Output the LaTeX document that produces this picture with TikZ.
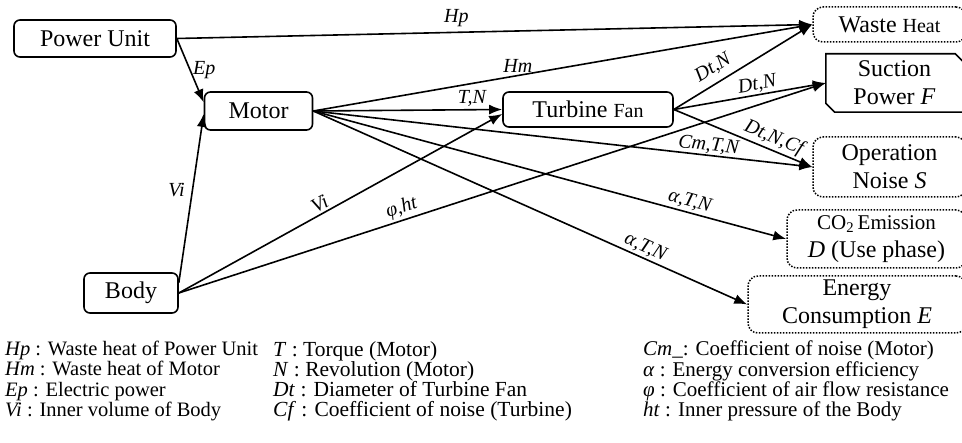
\documentclass[tikz,border=0pt]{standalone}
\usepackage{fontspec}
\setmainfont{Liberation Serif}
\usetikzlibrary{arrows.meta}

\begin{document}
\begin{tikzpicture}[x=1pt, y=-1pt,
  unit/.style={draw, line width=1.6pt, rounded corners=6pt, inner sep=0pt, font=\fontsize{24}{28}\selectfont},
  effect/.style={draw, line width=1.5pt, dash pattern=on 1.5pt off 1.5pt, rounded corners=10pt, inner sep=0pt, align=center, font=\fontsize{24}{28}\selectfont},
  suction/.style={inner sep=0pt, align=center, font=\fontsize{24}{28}\selectfont},
  flow/.style={line width=1.6pt, -{Latex[length=13pt,width=10pt]}},
  lbl/.style={font=\fontsize{20}{22}\selectfont\itshape, inner sep=2pt},
  key/.style={anchor=north west, align=left, inner sep=0pt, font=\fontsize{20.5}{20.2}\selectfont}]

% Marco
\path[fill=white, use as bounding box] (0,0) rectangle (962,443);
\clip (0,0) rectangle (962,443);

% Componentes
\node[unit, minimum width=162pt, minimum height=37pt] (pu) at (95,38.5) {Power Unit};
\node[unit, minimum width=108pt, minimum height=38pt] (motor) at (258.5,111) {Motor};
\node[unit, minimum width=170pt, minimum height=35pt] (fan) at (588,109.5) {Turbine {\fontsize{20}{22}\selectfont Fan}};
\node[unit, minimum width=94pt, minimum height=40pt] (body) at (131,293) {Body};

% Resultados
\node[effect, minimum width=153pt, minimum height=35pt] (heat) at (889.5,24.5) {Waste {\fontsize{20}{22}\selectfont Heat}};
\node[suction, minimum width=137pt, minimum height=58pt] (suct) at (894.5,83) {Suction\\Power \textit{F}};
\draw[line width=1.6pt] (suct.north west) -- ([xshift=-8pt]suct.north east) -- ([yshift=-8pt]suct.north east)
  -- (suct.south east) -- ([xshift=9pt]suct.south west) -- ([yshift=9pt]suct.south west) -- cycle;
\node[effect, minimum width=153pt, minimum height=60pt] (noise) at (889.5,167) {Operation\\Noise \textit{S}};
\node[effect, minimum width=179pt, minimum height=58pt] (co2) at (876.5,239) {{\fontsize{21}{28}\selectfont CO\textsubscript{2}\,Emission}\\\textit{D} (Use phase)};
\node[effect, minimum width=218pt, minimum height=57pt] (energy) at (857,304.5) {Energy\\Consumption \textit{E}};

% Power Unit
\draw[flow] (pu.east) -- node[lbl, above=3pt, pos=0.44]{Hp} (heat.west);
\draw[flow] (pu.east) -- node[lbl, right, pos=0.5]{Ep} (motor.171);

% Motor
\draw[flow] (motor.east) -- node[lbl, above, pos=0.41]{Hm} (heat.west);
\draw[flow] (motor.east) -- node[lbl, above, pos=0.84]{T,N} (fan.west);
\draw[flow] (motor.east) -- node[lbl, sloped, above, pos=0.79, inner sep=1pt]{Cm,T,N} (noise.west);
\draw[flow] (motor.east) -- node[lbl, sloped, above, pos=0.79]{α,T,N} (co2.west);
\draw[flow] (motor.east) -- node[lbl, sloped, above, pos=0.755]{α,T,N} (energy.west);

% Body
\draw[flow] (body.12) -- node[lbl, left=5pt, pos=0.55]{Vi} (motor.183);
\draw[flow] (body.east) -- node[lbl, sloped, above, pos=0.45]{Vi} (fan.183);
\draw[flow] (body.east) -- node[lbl, sloped, above, pos=0.35]{φ,ht} (suct.west);

% Turbine Fan
\draw[flow] (fan.east) -- node[lbl, sloped, above=4pt, pos=0.34]{Dt,N} (heat.west);
\draw[flow] (fan.east) -- node[lbl, sloped, above, inner sep=1pt, pos=0.56]{Dt,N} (suct.west);
\draw[flow] (fan.east) -- node[lbl, sloped, above, pos=0.69]{Dt,N,Cf} (noise.west);

% Leyenda
\node[key] (keyA) at (5,341) {\textit{Hp} : Waste heat of Power Unit\\\textit{Hm} : Waste heat of Motor\\\textit{Ep} : Electric power\\\textit{Vi} : Inner volume of Body};
\node[key, font=\fontsize{21.5}{20.2}\selectfont] (keyB) at (273,341) {\textit{T} : Torque (Motor)\\\textit{N} : Revolution (Motor)\\\textit{Dt} : Diameter of Turbine Fan\\\textit{Cf} : Coefficient of noise (Turbine)};
\node[key, font=\fontsize{21}{20.2}\selectfont] (keyC) at (643,341) {\textit{Cm}\_: Coefficient of noise (Motor)\\\textit{α} : Energy conversion efficiency\\\textit{φ} : Coefficient of air flow resistance\\\textit{ht} : Inner pressure of the Body};

\end{tikzpicture}
\end{document}
